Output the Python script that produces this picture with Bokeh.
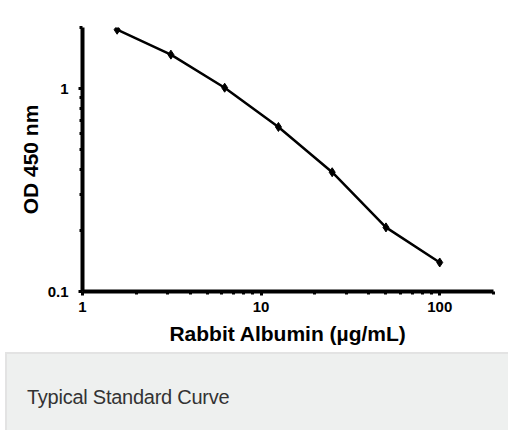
from bokeh.plotting import figure
from bokeh.models import FixedTicker, Div
from bokeh.layouts import column
from bokeh.embed import file_html
from bokeh.resources import INLINE

# Data
concentration = [1.5625, 3.125, 6.25, 12.5, 25, 50, 100]
od450 = [1.95, 1.47, 1.01, 0.647, 0.387, 0.207, 0.139]

x_major = [1, 10, 100]
x_minor = [2, 3, 4, 5, 6, 7, 8, 9, 20, 30, 40, 50, 60, 70, 80, 90, 200]
y_major = [0.1, 1]
y_minor = [0.2, 0.3, 0.4, 0.5, 0.6, 0.7, 0.8, 0.9, 2]

x_title = "Rabbit Albumin (µg/mL)"
y_title = "OD 450 nm"
caption = "Typical Standard Curve"

FONT = "Liberation Sans"

p = figure(
    x_axis_type="log", y_axis_type="log",
    x_range=(1, 200), y_range=(0.1, 2),
    width=495, height=347,
    min_border_left=82, min_border_right=2,
    min_border_top=27, min_border_bottom=56,
    output_backend="svg", toolbar_location=None,
    background_fill_color="white", border_fill_color="white",
)
p.outline_line_color = None
p.grid.visible = False

p.line(concentration, od450, line_color="black", line_width=2.5)
p.scatter(concentration, od450, marker="diamond", size=9,
          fill_color="black", line_color="black")

for ax in (p.xaxis[0], p.yaxis[0]):
    ax.axis_line_width = 4
    ax.axis_line_color = "black"
    ax.major_tick_in = 0
    ax.major_tick_out = 4
    ax.minor_tick_in = 0
    ax.minor_tick_out = 3
    ax.major_tick_line_width = 3
    ax.minor_tick_line_width = 3
    ax.major_tick_line_color = "black"
    ax.minor_tick_line_color = "black"
    ax.major_label_text_font = FONT
    ax.major_label_text_font_style = "bold"
    ax.major_label_text_font_size = "15px"
    ax.major_label_text_color = "black"
    ax.axis_label_text_font = FONT
    ax.axis_label_text_font_style = "bold"
    ax.axis_label_text_font_size = "21px"
    ax.axis_label_text_color = "black"

p.xaxis[0].ticker = FixedTicker(ticks=x_major, minor_ticks=x_minor)
p.yaxis[0].ticker = FixedTicker(ticks=y_major, minor_ticks=y_minor)
p.xaxis[0].major_label_overrides = {1: "1", 10: "10", 100: "100"}
p.yaxis[0].major_label_overrides = {0.1: "0.1", 1: "1"}
p.xaxis[0].axis_label = x_title
p.yaxis[0].axis_label = y_title
p.xaxis[0].major_label_standoff = 6
p.yaxis[0].major_label_standoff = 10
p.xaxis[0].axis_label_standoff = 7
p.yaxis[0].axis_label_standoff = 3

cap = Div(
    text=('<div style="box-sizing:border-box; width:503px; height:78px; background:#eef0ef;'
          'border-top:2px solid #e3e3e3; border-left:2px solid #e3e3e3;'
          'padding:32px 0 0 20px; font-family:\'Liberation Sans\',Arial,sans-serif;'
          'font-size:20px; color:#333; letter-spacing:-0.25px; line-height:23px;">'
          + caption + '</div>'),
    width=503, height=78,
)

layout = column(p, cap, spacing=0)

open("out.html", "w").write(file_html(layout, INLINE))
